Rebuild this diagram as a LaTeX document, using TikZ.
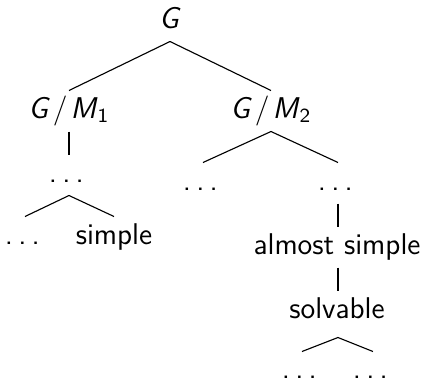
\documentclass[tikz,border=0pt]{standalone}
\newcommand\mydots{.\kern2.1pt.\kern2.1pt.\kern2.1pt}
\begin{document}
\begin{tikzpicture}[x=0.4pt,y=-0.4pt,
  tn/.style={font=\fontsize{12}{14}\selectfont\sffamily, inner sep=2.5pt,
    text height=8.3pt, text depth=2.7pt, anchor=base},
  br/.style={line width=0.45pt}]
\useasboundingbox (0,0) rectangle (422,382);
\node[tn] (g) at (170,28) {\textit{G}};
\node[tn] (gm1) at (69,118) {\textit{G}\kern1.2pt/\kern1.2pt\textit{M}\textsubscript{1}};
\node[tn] (gm2) at (271,118) {\textit{G}\kern1.2pt/\kern1.2pt\textit{M}\textsubscript{2}};
\node[tn] (d1) at (69,182) {\mydots};
\node[tn] (d2) at (203,190) {\mydots};
\node[tn] (d3) at (338,190) {\mydots};
\node[tn] (d4) at (25,244) {\mydots};
\node[tn] (simple) at (114,244) {simple};
\node[tn] (almost) at (337,254) {almost simple};
\node[tn] (solv) at (337,318) {solvable};
\node[tn] (d5) at (302,378) {\mydots};
\node[tn] (d6) at (373,378) {\mydots};
\draw[br] (g.south) -- (gm1.north);
\draw[br] (g.south) -- (gm2.north);
\draw[br] (gm1.south) -- (d1.north);
\draw[br] (gm2.south) -- (d2.north);
\draw[br] (gm2.south) -- (d3.north);
\draw[br] (d1.south) -- (d4.north);
\draw[br] (d1.south) -- (simple.north);
\draw[br] (d3.south) -- (d3.south |- almost.north);
\draw[br] (d3.south |- almost.south) -- (d3.south |- solv.north);
\draw[br] ([yshift=-2.4pt]d3.south |- solv.south) -- ([yshift=-0.4pt]d5.north);
\draw[br] ([yshift=-2.4pt]d3.south |- solv.south) -- ([yshift=-0.4pt]d6.north);
\end{tikzpicture}
\end{document}
